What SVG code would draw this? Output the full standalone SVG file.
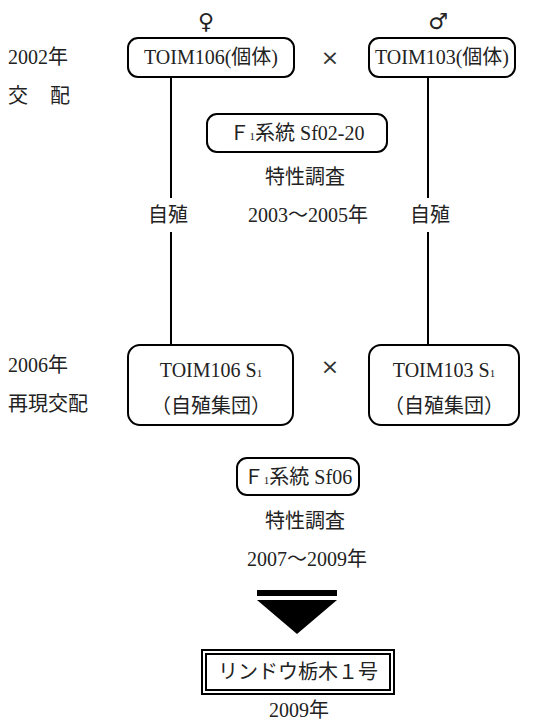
<svg xmlns="http://www.w3.org/2000/svg" width="544" height="722" viewBox="0 0 544 722">
<style>
text{font-family:"Liberation Serif","DejaVu Serif","Noto Sans CJK JP",serif;font-size:20px;fill:#222;}
.c{text-anchor:middle;}
.sym{font-family:"DejaVu Sans",sans-serif;font-size:22px;}
.x{font-family:"DejaVu Sans",sans-serif;font-size:22px;fill:#333;}
.box{fill:#fff;stroke:#000;stroke-width:2;}
.ln{stroke:#000;stroke-width:2;fill:none;}
.sub{font-size:11px;}
</style>
<rect width="544" height="722" fill="#fff"/>
<g id="labels">
<text x="206" y="29" class="c sym">♀</text>
<text x="438" y="29" class="c sym">♂</text>
<text x="8" y="64">2002年</text>
<text x="8" y="103">交</text>
<text x="50" y="103">配</text>
<text x="8" y="372">2006年</text>
<text x="8" y="411">再現交配</text>
<text x="330" y="65" class="c x">×</text>
<text x="330" y="374" class="c x">×</text>
</g>
<g id="connectors">
<line class="ln" x1="171" y1="77" x2="171" y2="198"/>
<line class="ln" x1="171" y1="232" x2="171" y2="345"/>
<line class="ln" x1="428" y1="77" x2="428" y2="198"/>
<line class="ln" x1="428" y1="232" x2="428" y2="345"/>
<text x="168" y="222" class="c">自殖</text>
<text x="430" y="222" class="c">自殖</text>
</g>
<g id="p1">
<rect class="box" x="128" y="38" width="166" height="39" rx="10"/>
<text x="211" y="64" class="c">TOIM106(個体)</text>
</g>
<g id="p2">
<rect class="box" x="369" y="38" width="146" height="39" rx="10"/>
<text x="442" y="64" class="c">TOIM103(個体)</text>
</g>
<g id="f1a">
<rect class="box" x="207" y="114" width="180" height="38" rx="10"/>
<text x="297" y="140" class="c">Ｆ<tspan class="sub">1</tspan>系統 Sf02-20</text>
<text x="305" y="184" class="c">特性調査</text>
<text x="308" y="222" class="c">2003～2005年</text>
</g>
<g id="s1a">
<rect class="box" x="128" y="345" width="165" height="80" rx="12"/>
<text x="211" y="377" class="c">TOIM106 S<tspan class="sub">1</tspan></text>
<text x="211" y="413" class="c">（自殖集団）</text>
</g>
<g id="s1b">
<rect class="box" x="369" y="345" width="150" height="80" rx="12"/>
<text x="444" y="377" class="c">TOIM103 S<tspan class="sub">1</tspan></text>
<text x="444" y="413" class="c">（自殖集団）</text>
</g>
<g id="f1b">
<rect class="box" x="237" y="458" width="122" height="37" rx="10"/>
<text x="298" y="484" class="c">Ｆ<tspan class="sub">1</tspan>系統 Sf06</text>
<text x="305" y="528" class="c">特性調査</text>
<text x="307" y="566" class="c">2007～2009年</text>
</g>
<g id="arrow">
<rect x="257" y="590" width="80" height="6" fill="#000"/>
<polygon points="257,600 337,600 297,634" fill="#000"/>
</g>
<g id="result">
<rect x="202" y="650" width="192" height="44" fill="#fff" stroke="#000" stroke-width="2"/>
<rect x="206" y="654" width="184" height="36" fill="none" stroke="#000" stroke-width="2"/>
<text x="298" y="679" class="c">リンドウ栃木１号</text>
<text x="299" y="717" class="c">2009年</text>
</g>
</svg>
